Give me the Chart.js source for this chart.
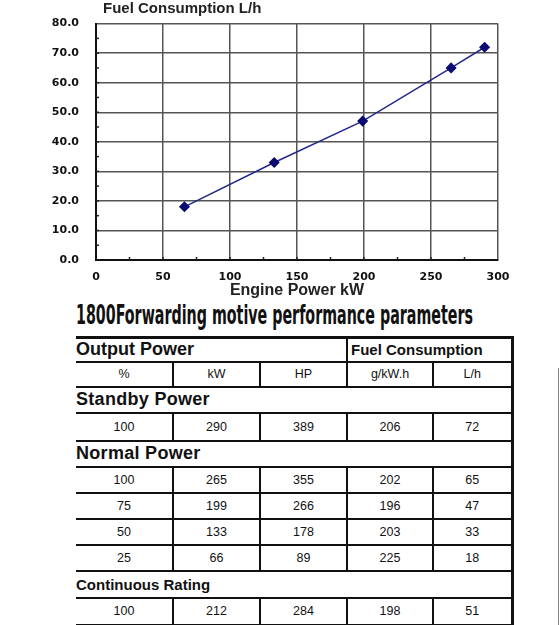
<!DOCTYPE html>
<html>
<head>
<meta charset="utf-8">
<script src="https://cdn.jsdelivr.net/npm/chart.js@4.4.1/dist/chart.umd.min.js"></script>
<style>
  body { margin: 0; background: #fff; width: 560px; height: 625px; overflow: hidden; position: relative; font-family: "Liberation Sans", Arial, sans-serif; color: #111; }
  #grafico { position: absolute; left: 0; top: 0; }
  #titulo { position: absolute; left: 76px; top: 300px; font-family: "Liberation Sans Narrow", "DejaVu Sans Condensed", sans-serif; font-weight: bold; font-size: 26px; line-height: 30px; white-space: nowrap; transform-origin: left top; }
  #tabla { position: absolute; left: 76px; top: 336px; width: 436px; border-collapse: collapse; table-layout: fixed; border-top: 3px solid #111; border-right: 3px solid #111; }
  #tabla td { border-bottom: 2px solid #111; padding: 0; font-size: 12.5px; text-align: center; }
  #tabla td.dato { border-right: 2px solid #111; }
  #tabla td.dato:last-child { border-right: none; }
  #tabla td.seccion { text-align: left; font-weight: bold; font-size: 18px; letter-spacing: 0.3px; }
  #tabla td.cabecera { text-align: left; font-weight: bold; font-size: 18px; }
  #tabla td.consumo { text-align: left; font-weight: bold; font-size: 15px; padding-left: 3px; }
  #tabla td.continua { text-align: left; font-weight: bold; font-size: 15px; }
  #borde { position: absolute; left: 558px; top: 368px; width: 1px; height: 257px; background: #888; }
</style>
</head>
<body>
<canvas id="grafico" width="560" height="300"></canvas>
<div id="titulo">1800Forwarding motive performance parameters</div>
<table id="tabla"></table>
<div id="borde"></div>
<script>
// Datos del grafico
const potenciaKw = [66, 133, 199, 265, 290];
const consumoLh = [18, 33, 47, 65, 72];

// Datos de la tabla
const columnas = ["%", "kW", "HP", "g/kW.h", "L/h"];
const filaStandby = [100, 290, 389, 206, 72];
const filasNormal = [
  [100, 265, 355, 202, 65],
  [75, 199, 266, 196, 47],
  [50, 133, 178, 203, 33],
  [25, 66, 89, 225, 18]
];
const filaContinua = [100, 212, 284, 198, 51];

// Construir la tabla
function filaDatos(valores, alto) {
  return `<tr style="height:${alto}px">` + valores.map(v => `<td class="dato">${v}</td>`).join("") + "</tr>";
}
function filaSeccion(texto, clase, alto) {
  return `<tr style="height:${alto}px"><td colspan="5" class="${clase}">${texto}</td></tr>`;
}

const tabla = document.getElementById("tabla");
let html = `<colgroup><col style="width:97px"><col style="width:87px"><col style="width:87px"><col style="width:86px"><col style="width:79px"></colgroup>`;
html += `<tr style="height:24px"><td colspan="3" class="cabecera dato">Output Power</td><td colspan="2" class="consumo">Fuel Consumption</td></tr>`;
html += filaDatos(columnas, 25);
html += filaSeccion("Standby Power", "seccion", 26);
html += filaDatos(filaStandby, 28);
html += filaSeccion("Normal Power", "seccion", 26);
filasNormal.forEach(f => { html += filaDatos(f, 26); });
html += filaSeccion("Continuous Rating", "continua", 27);
html += filaDatos(filaContinua, 27);
tabla.innerHTML = html;

// Ajustar el titulo al ancho de la referencia
const titulo = document.getElementById("titulo");
titulo.style.transform = `scaleX(${397 / titulo.offsetWidth})`;

// Marcas menores en los ejes
const marcasMenores = {
  id: "marcasMenores",
  afterDraw(chart) {
    const { ctx, scales: { x, y } } = chart;
    ctx.save();
    ctx.strokeStyle = "#222";
    ctx.lineWidth = 1.5;
    for (let v = 5; v < 80; v += 5) {
      const py = y.getPixelForValue(v);
      ctx.beginPath();
      ctx.moveTo(x.left, py);
      ctx.lineTo(x.left + 3, py);
      ctx.stroke();
    }
    for (let v = 25; v < 300; v += 25) {
      const px = x.getPixelForValue(v);
      ctx.beginPath();
      ctx.moveTo(px, y.bottom);
      ctx.lineTo(px, y.bottom - 3);
      ctx.stroke();
    }
    // Titulo del grafico
    ctx.fillStyle = "#222";
    ctx.font = "bold 15px 'Liberation Sans', Arial, sans-serif";
    ctx.textBaseline = "middle";
    ctx.fillText("Fuel Consumption L/h", 103, 9);
    ctx.restore();
  }
};

const fuenteTicks = { family: "'DejaVu Sans', Verdana, sans-serif", weight: "bold", size: 11 };

new Chart(document.getElementById("grafico"), {
  type: "line",
  data: {
    datasets: [{
      data: potenciaKw.map((kw, i) => ({ x: kw, y: consumoLh[i] })),
      borderColor: "#24288e",
      borderWidth: 1.5,
      backgroundColor: "#0a0a70",
      pointBackgroundColor: "#0a0a70",
      pointBorderColor: "#0a0a70",
      pointStyle: "rectRot",
      pointRadius: 4.5,
      tension: 0
    }]
  },
  options: {
    responsive: false,
    animation: false,
    layout: { padding: { left: 0, right: 62, top: 18, bottom: 0 } },
    plugins: { legend: { display: false }, tooltip: { enabled: false } },
    scales: {
      x: {
        type: "linear",
        min: 0,
        max: 300,
        afterFit: (scale) => { scale.height = 40; },
        ticks: { stepSize: 50, padding: 11, color: "#111", font: fuenteTicks, maxRotation: 0 },
        grid: { color: "#555", lineWidth: 1.5, drawTicks: false },
        border: { color: "#111", width: 2 },
        title: {
          display: true,
          text: "Engine Power kW",
          color: "#222",
          font: { family: "'Liberation Sans', Arial, sans-serif", weight: "bold", size: 16 },
          padding: { top: 0, bottom: 0 }
        }
      },
      y: {
        min: 0,
        max: 80,
        afterFit: (scale) => { scale.width = 96; },
        ticks: { stepSize: 10, padding: 17, color: "#111", font: fuenteTicks, callback: (v) => v.toFixed(1) },
        grid: { color: "#555", lineWidth: 1.5, drawTicks: false },
        border: { color: "#111", width: 2 }
      }
    }
  },
  plugins: [marcasMenores]
});
</script>
</body>
</html>
